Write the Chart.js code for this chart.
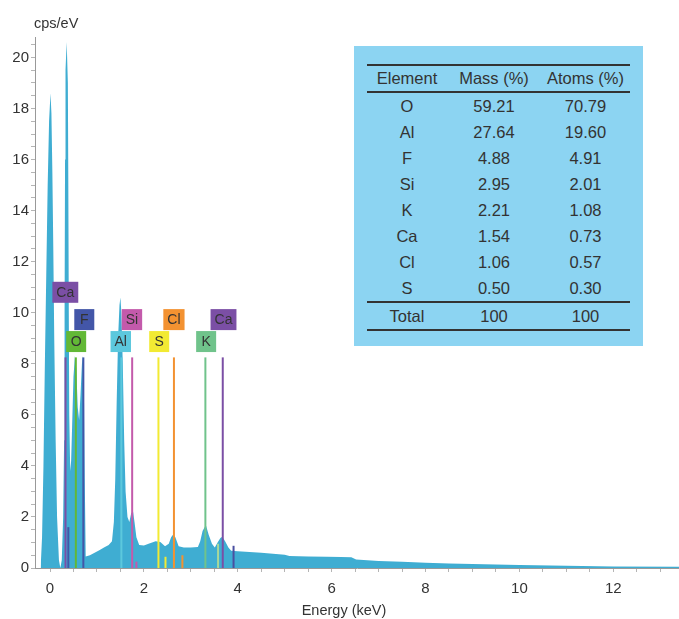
<!DOCTYPE html>
<html>
<head>
  <title>EDS Spectrum</title>
  <script src="https://cdn.jsdelivr.net/npm/chart.js"></script>
  <style>
    body { margin: 0; background: #fff; font-family: "Liberation Sans", Arial, sans-serif; }
    #wrap { position: relative; width: 679px; height: 619px; }
    #tableBox {
      position: absolute; left: 354px; top: 46px; width: 289px; height: 300px;
      background: #8cd4f2;
    }
    #tableBox table {
      position: absolute; left: 13px; top: 18px; width: 263px;
      border-collapse: collapse; color: #333; font-size: 16.5px;
    }
    #tableBox td, #tableBox th { text-align: center; padding: 0; height: 26px; font-weight: normal; }
    #tableBox tr.head th { border-top: 2px solid #333; border-bottom: 2px solid #333; height: 25px; }
    #tableBox tr.total td { border-top: 2px solid #333; border-bottom: 2px solid #333; }
  </style>
</head>
<body>
<div id="wrap">
  <canvas id="eds" width="679" height="619"></canvas>
  <div id="tableBox"><table id="comp"></table></div>
</div>

<script>
  // spectrum (keV, cps/eV)
  const energy = [-0.2, -0.17, -0.14, -0.11, -0.08, -0.05, -0.02, 0.01, 0.03, 0.05, 0.07, 0.09, 0.12, 0.15, 0.19, 0.22,
    0.25, 0.28, 0.3, 0.31, 0.32, 0.33, 0.355, 0.38, 0.39, 0.4, 0.41, 0.43, 0.45, 0.47, 0.5, 0.53, 0.56, 0.59, 0.62, 0.65, 0.68, 0.7,
    0.72, 0.74, 0.76, 0.85, 0.95, 1.05, 1.15, 1.25, 1.32, 1.36, 1.39, 1.42, 1.45, 1.48, 1.5, 1.52, 1.55, 1.58, 1.61, 1.65,
    1.69, 1.73, 1.77, 1.8, 1.84, 1.9, 2.0, 2.1, 2.25, 2.35, 2.45, 2.53, 2.58, 2.62, 2.67, 2.74, 2.85, 3.0, 3.15, 3.2, 3.25,
    3.32, 3.38, 3.45, 3.51, 3.57, 3.63, 3.67, 3.73, 3.8, 3.86, 4.0, 4.5, 5.0, 5.1, 5.5, 5.9, 6.2, 6.42, 6.52, 7.0, 7.5,
    8.0, 8.5, 9.0, 10.0, 11.0, 12.0, 13.4];
  const counts = [0, 1.2, 4, 8, 11.5, 15, 17.5, 18.6, 17.8, 15.5, 12.5, 9, 5, 2, 0.3, 0,
    0.3, 2, 5, 10, 16, 19.5, 20.6, 19, 15, 10, 6, 3.8, 4.2, 5.5, 7.5, 8.3, 7.8, 6.3, 5.8, 6.8, 8, 8.3,
    7.4, 3.5, 0.45, 0.5, 0.6, 0.7, 0.8, 0.9, 1.05, 1.8, 3.5, 6.5, 9, 10.3, 10.6, 10, 8, 5, 3, 2,
    1.8, 2.15, 2.2, 1.8, 1.2, 0.9, 0.88, 0.95, 1.05, 1.02, 0.85, 0.95, 1.2, 1.3, 1.2, 0.85, 0.8, 0.8, 0.82, 1.05, 1.45,
    1.68, 1.3, 0.95, 0.8, 1.0, 1.18, 1.22, 1.05, 0.8, 0.68, 0.66, 0.6, 0.52, 0.47, 0.45, 0.44, 0.43, 0.42, 0.33, 0.27, 0.24,
    0.21, 0.18, 0.16, 0.12, 0.09, 0.06, 0.05];

  // element marker lines and their labels
  const markerNames = ['Ca', 'O', 'F', 'Al', 'Si', 'S', 'Cl', 'K', 'Ca'];
  const markerEnergy = [0.33, 0.55, 0.71, 1.52, 1.75, 2.31, 2.64, 3.31, 3.68];
  const markerTop = 8.25;
  const labelEnergy = [0.326, 0.557, 0.73, 1.507, 1.745, 2.326, 2.64, 3.326, 3.696];
  const labelLevel = [10.8, 8.87, 9.73, 8.87, 9.73, 8.87, 9.73, 8.87, 9.73];
  const markerColors = ['#7b4fa5', '#62b836', '#4356a8', '#5cc8dd', '#c35aab', '#f2ea33', '#f39231', '#70c38b', '#7b4fa5'];

  // short secondary lines
  const minorEnergy = [0.39, 1.84, 2.46, 2.82, 3.58, 3.91];
  const minorHeight = [1.6, 0.25, 0.44, 0.5, 0.95, 0.87];
  const minorColors = ['#4356a8', '#c35aab', '#f2ea33', '#f39231', '#a8d89a', '#4a4fa0'];

  // composition table
  const tableElements = ['O', 'Al', 'F', 'Si', 'K', 'Ca', 'Cl', 'S'];
  const massPct = ['59.21', '27.64', '4.88', '2.95', '2.21', '1.54', '1.06', '0.50'];
  const atomPct = ['70.79', '19.60', '4.91', '2.01', '1.08', '0.73', '0.57', '0.30'];

  // build table
  let html = '<tr class="head"><th style="width:80px">Element</th><th style="width:94px">Mass (%)</th><th>Atoms (%)</th></tr>';
  tableElements.forEach((el, i) => {
    html += '<tr><td>' + el + '</td><td>' + massPct[i] + '</td><td>' + atomPct[i] + '</td></tr>';
  });
  html += '<tr class="total"><td>Total</td><td>100</td><td>100</td></tr>';
  document.getElementById('comp').innerHTML = html;

  const datasets = [];
  datasets.push({
    data: energy.map((e, i) => ({ x: e, y: counts[i] })),
    backgroundColor: '#3fadd2',
    borderWidth: 0,
    fill: 'origin',
    pointRadius: 0,
    tension: 0,
    order: 5
  });
  markerEnergy.forEach((e, i) => {
    datasets.push({
      data: [{ x: e, y: 0 }, { x: e, y: markerTop }],
      borderColor: markerColors[i],
      borderWidth: 2,
      pointRadius: 0,
      fill: false,
      order: 1
    });
  });
  minorEnergy.forEach((e, i) => {
    datasets.push({
      data: [{ x: e, y: 0 }, { x: e, y: minorHeight[i] }],
      borderColor: minorColors[i],
      borderWidth: 2,
      pointRadius: 0,
      fill: false,
      order: 1
    });
  });

  // labels boxes + axis captions
  const labelPlugin = {
    id: 'labels',
    afterDatasetsDraw(chart) {
      const ctx = chart.ctx;
      const xs = chart.scales.x, ys = chart.scales.y;
      ctx.save();
      ctx.font = '14px "Liberation Sans", Arial, sans-serif';
      ctx.textAlign = 'center';
      ctx.textBaseline = 'middle';
      markerNames.forEach((name, i) => {
        const cx = xs.getPixelForValue(labelEnergy[i]);
        const cy = ys.getPixelForValue(labelLevel[i]);
        const w = Math.max(20, ctx.measureText(name).width + 8);
        const h = 21;
        ctx.fillStyle = markerColors[i];
        ctx.fillRect(cx - w / 2, cy - h / 2, w, h);
        ctx.fillStyle = '#333';
        ctx.fillText(name, cx, cy + 1);
      });
      ctx.font = '14.5px "Liberation Sans", Arial, sans-serif';
      ctx.fillStyle = '#333';
      ctx.textAlign = 'left';
      ctx.textBaseline = 'alphabetic';
      ctx.fillText('cps/eV', 34, 28);
      ctx.textAlign = 'center';
      ctx.fillText('Energy (keV)', 344, 615);
      ctx.restore();
    }
  };

  new Chart(document.getElementById('eds'), {
    type: 'line',
    data: { datasets: datasets },
    plugins: [labelPlugin],
    options: {
      responsive: false,
      animation: false,
      layout: { padding: { top: 37, left: 0, right: 0, bottom: 0 } },
      plugins: { legend: { display: false }, tooltip: { enabled: false } },
      scales: {
        x: {
          type: 'linear',
          min: -0.32,
          max: 13.4,
          afterFit: s => { s.height = 51; },
          border: { color: '#999' },
          grid: { drawOnChartArea: false, tickLength: 4, color: '#b5b5b5' },
          ticks: {
            stepSize: 0.5, includeBounds: false, autoSkip: false, maxTicksLimit: 100, maxRotation: 0,
            padding: 8, color: '#333', font: { size: 15, family: '"Liberation Sans", Arial, sans-serif' },
            callback: v => (v % 2 === 0 ? String(v) : '')
          }
        },
        y: {
          min: 0,
          max: 20.8,
          afterFit: s => { s.width = 35; },
          border: { color: '#999' },
          grid: { drawOnChartArea: false, tickLength: 4, color: '#b5b5b5' },
          ticks: {
            stepSize: 0.5, includeBounds: false, autoSkip: false, maxTicksLimit: 100,
            padding: 2, color: '#333', font: { size: 15, family: '"Liberation Sans", Arial, sans-serif' },
            callback: v => (v % 2 === 0 ? String(v) : '')
          }
        }
      }
    }
  });
</script>
</body>
</html>
